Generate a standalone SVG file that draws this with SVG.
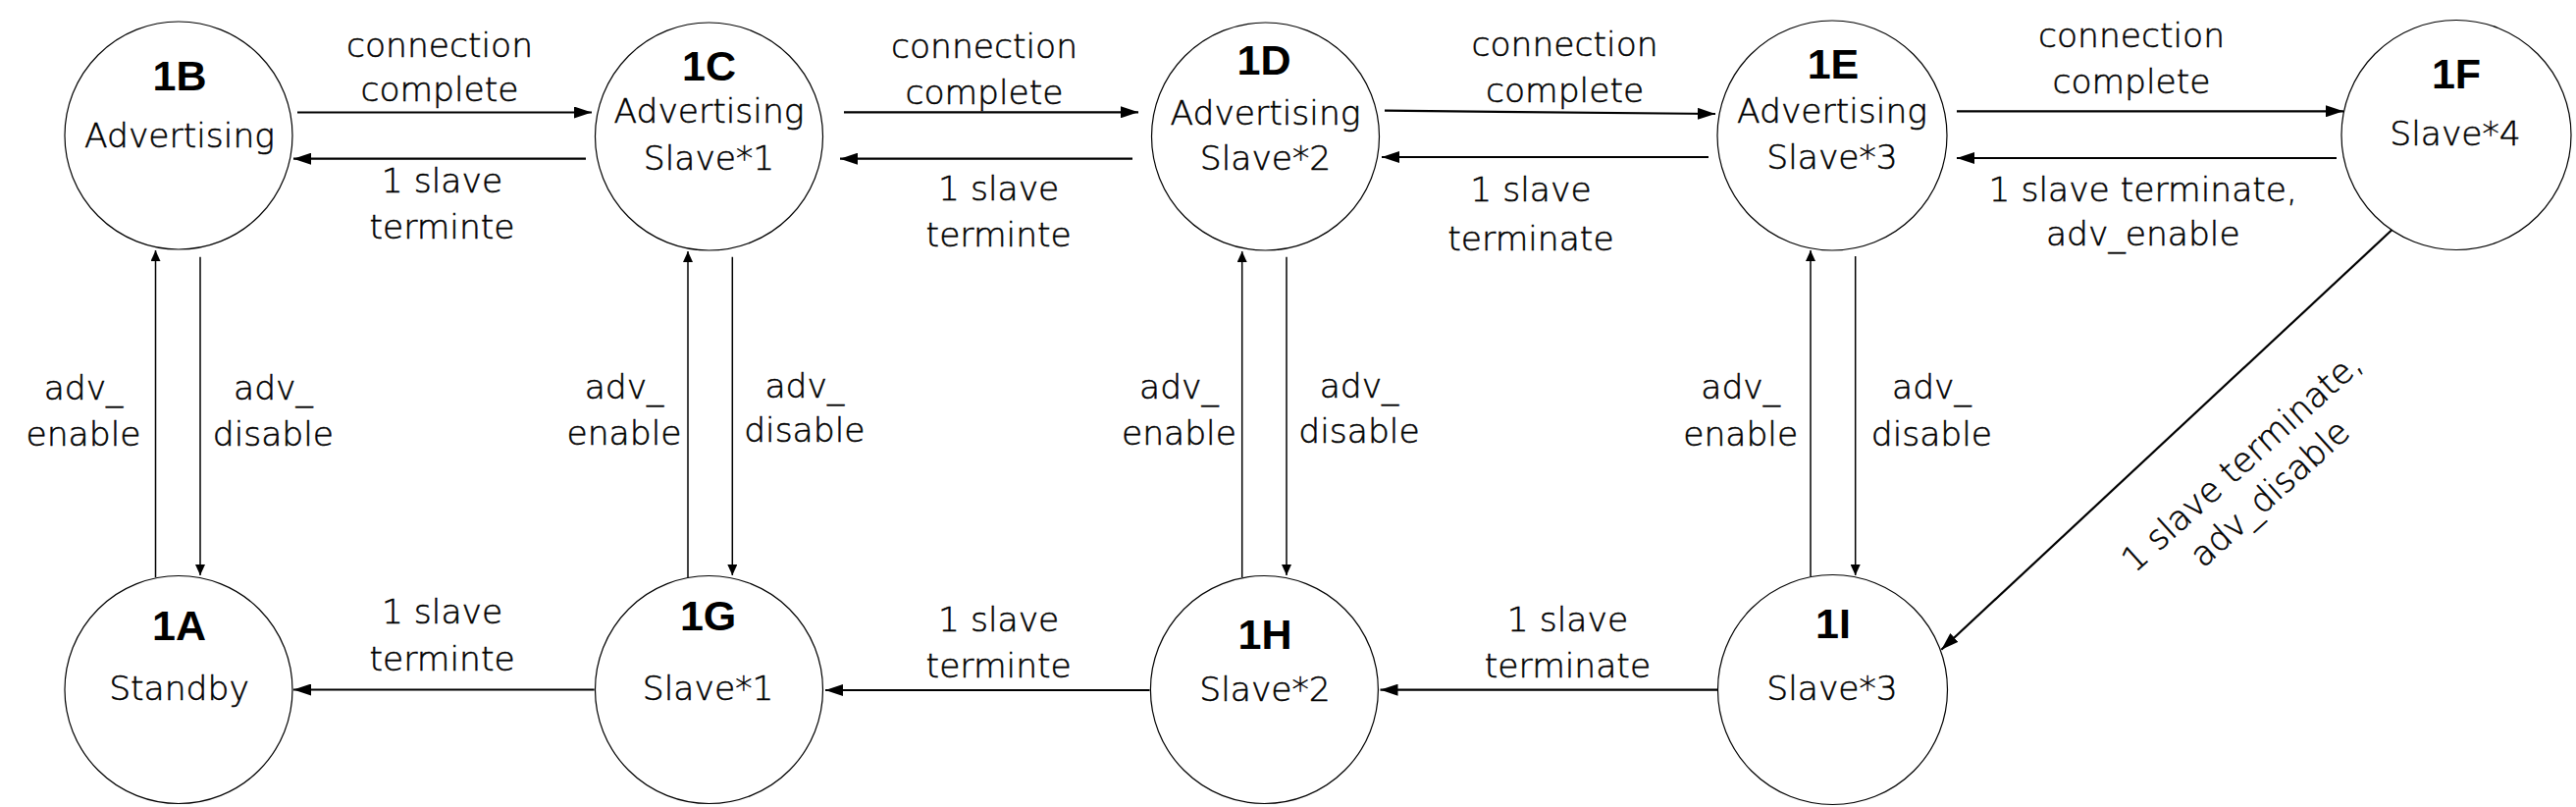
<svg xmlns="http://www.w3.org/2000/svg" width="2625" height="822" viewBox="0 0 2625 822">
<style>
.node{fill:#fff;stroke:#000;stroke-width:1.2}
.id{font-family:"Liberation Sans",Arial,sans-serif;font-weight:bold;font-size:43px;text-anchor:middle;fill:#000}
.t{font-family:"DejaVu Sans","Liberation Sans",sans-serif;font-weight:300;font-size:34.5px;text-anchor:middle;fill:#000;stroke:#000;stroke-width:0.5}
.h{stroke:#000;stroke-width:2.2;fill:none;marker-end:url(#ah)}
.v{stroke:#000;stroke-width:1.5;fill:none;marker-end:url(#av)}
</style>
<defs>
<marker id="ah" markerUnits="userSpaceOnUse" markerWidth="18" markerHeight="12" refX="18" refY="6" orient="auto"><path d="M0,0 L18,6 L0,12 z" fill="#000"/></marker>
<marker id="av" markerUnits="userSpaceOnUse" markerWidth="11" markerHeight="10" refX="11" refY="5" orient="auto"><path d="M0,0 L11,5 L0,10 z" fill="#000"/></marker>
</defs>
<rect width="2625" height="822" fill="#fff"/>

<g id="connectors">
<line class="h" x1="303" y1="114.5" x2="603" y2="114.5"/>
<line class="h" x1="597" y1="161.7" x2="299" y2="161.7"/>
<line class="h" x1="860" y1="114.3" x2="1160" y2="114.3"/>
<line class="h" x1="1154" y1="161.7" x2="856" y2="161.7"/>
<line class="h" x1="1411" y1="112.7" x2="1748" y2="116"/>
<line class="h" x1="1741" y1="160" x2="1408" y2="160"/>
<line class="h" x1="1994" y1="113.3" x2="2388" y2="113.3"/>
<line class="h" x1="2381" y1="161" x2="1994" y2="161"/>
<line class="h" x1="605.6" y1="702.5" x2="299" y2="702.5"/>
<line class="h" x1="1171.5" y1="703" x2="841" y2="703"/>
<line class="h" x1="1750" y1="702.7" x2="1406.5" y2="702.7"/>
<line class="h" x1="2437.3" y1="234.3" x2="1978.3" y2="661.7"/>
<line class="v" x1="158.5" y1="588" x2="158.5" y2="255"/>
<line class="v" x1="204" y1="261.7" x2="204" y2="586"/>
<line class="v" x1="701" y1="588" x2="701" y2="256"/>
<line class="v" x1="746.3" y1="261.7" x2="746.3" y2="586"/>
<line class="v" x1="1265.7" y1="588" x2="1265.7" y2="256"/>
<line class="v" x1="1311" y1="261.7" x2="1311" y2="586"/>
<line class="v" x1="1845" y1="587" x2="1845" y2="255"/>
<line class="v" x1="1890.7" y1="261" x2="1890.7" y2="586"/>
<text class="t"><tspan x="448" y="58.3">connection</tspan><tspan x="448" y="103.3">complete</tspan></text>
<text class="t"><tspan x="450.5" y="196">1 slave</tspan><tspan x="450.5" y="242.7">terminte</tspan></text>
<text class="t"><tspan x="1003" y="59">connection</tspan><tspan x="1003" y="106">complete</tspan></text>
<text class="t"><tspan x="1017.7" y="204">1 slave</tspan><tspan x="1017.7" y="250.7">terminte</tspan></text>
<text class="t"><tspan x="1594.6" y="57">connection</tspan><tspan x="1594.6" y="104">complete</tspan></text>
<text class="t"><tspan x="1560" y="205">1 slave</tspan><tspan x="1560" y="255">terminate</tspan></text>
<text class="t"><tspan x="2172" y="48.3">connection</tspan><tspan x="2172" y="95">complete</tspan></text>
<text class="t"><tspan x="2183.8" y="205">1 slave terminate,</tspan><tspan x="2183.8" y="250">adv_enable</tspan></text>
<text class="t"><tspan x="85" y="406.7">adv_</tspan><tspan x="85" y="454">enable</tspan></text>
<text class="t"><tspan x="278.4" y="406.7">adv_</tspan><tspan x="278.4" y="454">disable</tspan></text>
<text class="t"><tspan x="636" y="406">adv_</tspan><tspan x="636" y="453">enable</tspan></text>
<text class="t"><tspan x="819.8" y="405">adv_</tspan><tspan x="819.8" y="450">disable</tspan></text>
<text class="t"><tspan x="1201.4" y="406">adv_</tspan><tspan x="1201.4" y="453">enable</tspan></text>
<text class="t"><tspan x="1385" y="405">adv_</tspan><tspan x="1385" y="450.7">disable</tspan></text>
<text class="t"><tspan x="1773.7" y="406.3">adv_</tspan><tspan x="1773.7" y="453.9">enable</tspan></text>
<text class="t"><tspan x="1968.4" y="406.3">adv_</tspan><tspan x="1968.4" y="453.9">disable</tspan></text>
<text class="t"><tspan x="450.6" y="635">1 slave</tspan><tspan x="450.6" y="683.3">terminte</tspan></text>
<text class="t"><tspan x="1017.7" y="643.3">1 slave</tspan><tspan x="1017.7" y="690">terminte</tspan></text>
<text class="t"><tspan x="1597.5" y="643.3">1 slave</tspan><tspan x="1597.5" y="690">terminate</tspan></text>
<text class="t" transform="translate(2292,479) rotate(-42)"><tspan x="0" y="0">1 slave terminate,</tspan><tspan x="0" y="43">adv_disable</tspan></text>
</g>

<g id="node-1B"><circle class="node" cx="182" cy="138" r="116"/><text class="id" x="183" y="91.7">1B</text><text class="t" x="183" y="150">Advertising</text></g>
<g id="node-1C"><circle class="node" cx="722.5" cy="139" r="116"/><text class="id" x="722.5" y="81.7">1C</text><text class="t" x="722.5" y="125">Advertising</text><text class="t" x="722.5" y="173.3">Slave*1</text></g>
<g id="node-1D"><circle class="node" cx="1289.5" cy="139" r="116"/><text class="id" x="1288" y="76">1D</text><text class="t" x="1289.5" y="126.7">Advertising</text><text class="t" x="1289.5" y="173">Slave*2</text></g>
<g id="node-1E"><circle class="node" cx="1867" cy="138" r="117"/><text class="id" x="1868" y="80">1E</text><text class="t" x="1867" y="125">Advertising</text><text class="t" x="1867" y="171.7">Slave*3</text></g>
<g id="node-1F"><circle class="node" cx="2503" cy="137.5" r="117"/><text class="id" x="2503" y="90">1F</text><text class="t" x="2502" y="148.3">Slave*4</text></g>
<g id="node-1A"><circle class="node" cx="182" cy="702.5" r="116"/><text class="id" x="182.5" y="651.7">1A</text><text class="t" x="182.5" y="713.3">Standby</text></g>
<g id="node-1G"><circle class="node" cx="722.5" cy="702.5" r="116"/><text class="id" x="721.6" y="641.7">1G</text><text class="t" x="721.6" y="713.3">Slave*1</text></g>
<g id="node-1H"><circle class="node" cx="1288.4" cy="702.5" r="116"/><text class="id" x="1289" y="661">1H</text><text class="t" x="1289" y="714.3">Slave*2</text></g>
<g id="node-1I"><circle class="node" cx="1867.5" cy="702.5" r="117"/><text class="id" x="1868" y="650">1I</text><text class="t" x="1867" y="713.3">Slave*3</text></g>
</svg>
